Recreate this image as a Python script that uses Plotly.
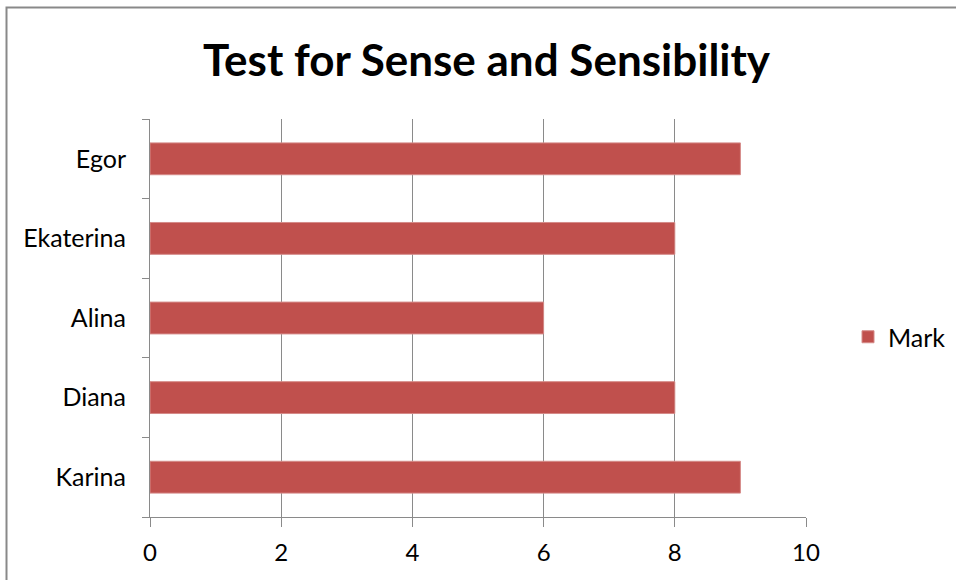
import plotly.graph_objects as go

names = ["Karina", "Diana", "Alina", "Ekaterina", "Egor"]
marks = [9, 8, 6, 8, 9]
x_ticks = [0, 2, 4, 6, 8, 10]
series_name = "Mark"
title_text = "Test for Sense and Sensibility"

W, H = 956, 580
L, R, T, B = 150, 150, 119, 63
pw = W - L - R
ph = H - T - B

def px_x(p):
    return (p - L) / pw

def px_y(p):
    return (H - B - p) / ph

FONT = "Lato"
GRID = "#8a8a8a"

fig = go.Figure()
fig.add_trace(go.Bar(
    y=names, x=marks, orientation="h", name=series_name,
    marker=dict(color="#C0504D", line=dict(color="#D58A88", width=1)),
    width=0.4, showlegend=True,
))

fig.update_layout(
    width=W, height=H,
    margin=dict(l=L, r=R, t=T, b=B, autoexpand=False),
    paper_bgcolor="white", plot_bgcolor="white",
    font=dict(family=FONT, color="#000000", size=24),
    showlegend=True,
    legend=dict(x=px_x(848), y=px_y(337), xanchor="left", yanchor="middle",
                font=dict(family=FONT, size=25, color="#000"),
                itemwidth=30, bgcolor="rgba(0,0,0,0)"),
    xaxis=dict(range=[0, 10], tickvals=x_ticks, showgrid=True, gridcolor=GRID, gridwidth=1,
               showline=True, linecolor=GRID, linewidth=1, ticks="outside", ticklen=9,
               tickcolor=GRID, zeroline=False, tickfont=dict(family=FONT, size=24, color="#000"),
               ticklabelstandoff=5, fixedrange=True),
    yaxis=dict(type="category", categoryorder="array", categoryarray=names,
               showline=True, linecolor=GRID, linewidth=1, ticks="outside", ticklen=7,
               tickcolor=GRID, tickson="boundaries", showgrid=False,
               tickfont=dict(family=FONT, size=25, color="#000"), ticklabelstandoff=18,
               fixedrange=True),
)

# chart border (extends beyond the window on right/bottom)
fig.add_shape(type="rect", xref="paper", yref="paper",
              x0=px_x(6.5), x1=px_x(968), y0=px_y(592), y1=px_y(7.5),
              line=dict(color="#898989", width=2), fillcolor="rgba(0,0,0,0)", layer="below")

fig.add_annotation(text="<b>" + title_text + "</b>", xref="paper", yref="paper",
                   x=px_x(487), y=px_y(59), xanchor="center", yanchor="middle",
                   showarrow=False, font=dict(family=FONT, size=44, color="#000"))

fig.write_html("out.html", config={"displayModeBar": False},
               post_script="document.body.style.margin='0';")
